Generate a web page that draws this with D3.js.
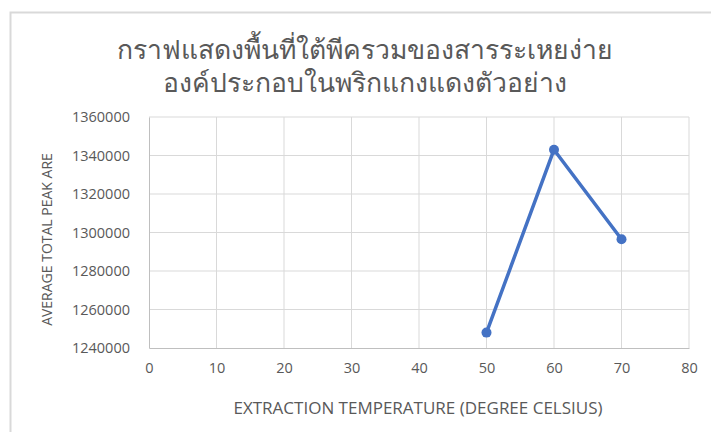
<!DOCTYPE html>
<html>
<head>
<meta charset="utf-8">
<script src="https://cdn.jsdelivr.net/npm/d3@7"></script>
<style>
  body { margin: 0; background: #fff; }
  text { font-family: "Open Sans", "Noto Sans", sans-serif; fill: #595959; }
</style>
</head>
<body>
<div id="chart"></div>
<script>
// data
let temps = [50, 60, 70];
let peakArea = [1248000, 1343000, 1296500];
let xTicks = [0, 10, 20, 30, 40, 50, 60, 70, 80];
let yTicks = [1240000, 1260000, 1280000, 1300000, 1320000, 1340000, 1360000];
let titleLines = ["กราฟแสดงพื้นที่ใต้พีครวมของสารระเหยง่าย", "องค์ประกอบในพริกแกงแดงตัวอย่าง"];

let W = 711, H = 432;
let margin = {top: 117, right: 22, bottom: 84, left: 149};

let svg = d3.select("#chart")
  .append("svg")
    .attr("width", W)
    .attr("height", H);

// chart frame
svg.append("rect")
  .attr("x", 10.5).attr("y", 12.5)
  .attr("width", W + 20).attr("height", H + 20)
  .attr("fill", "none")
  .attr("stroke", "#d9d9d9")
  .attr("stroke-width", 2);

let x = d3.scaleLinear()
  .domain([0, 80])
  .range([margin.left, W - margin.right]);

let y = d3.scaleLinear()
  .domain([1240000, 1360000])
  .range([H - margin.bottom, margin.top]);

// gridlines
svg.append("g")
  .selectAll("line.v")
  .data(xTicks.slice(1))
  .enter().append("line")
    .attr("x1", d => x(d)).attr("x2", d => x(d))
    .attr("y1", y(1360000)).attr("y2", y(1240000))
    .attr("stroke", "#d9d9d9").attr("stroke-width", 1);

svg.append("g")
  .selectAll("line.h")
  .data(yTicks.slice(1))
  .enter().append("line")
    .attr("x1", x(0)).attr("x2", x(80))
    .attr("y1", d => y(d)).attr("y2", d => y(d))
    .attr("stroke", "#d9d9d9").attr("stroke-width", 1);

// axes
let xAxis = svg.append("g")
  .attr("transform", `translate(0,${y(1240000)})`)
  .call(d3.axisBottom(x).tickValues(xTicks).tickSize(0).tickPadding(15));
xAxis.select(".domain").attr("stroke", "#bfbfbf");
xAxis.selectAll("text").style("font-size", "14.5px").attr("fill", "#595959");

let yAxis = svg.append("g")
  .attr("transform", `translate(${x(0)},0)`)
  .call(d3.axisLeft(y).tickValues(yTicks).tickSize(0).tickPadding(19).tickFormat(d3.format("d")));
yAxis.select(".domain").attr("stroke", "#bfbfbf");
yAxis.selectAll("text").style("font-size", "14.5px").attr("fill", "#595959");

// axis titles
svg.append("text")
  .attr("x", (x(0) + x(80)) / 2 - 1)
  .attr("y", 414)
  .attr("text-anchor", "middle")
  .style("font-size", "17px")
  .text("EXTRACTION TEMPERATURE (DEGREE CELSIUS)");

svg.append("text")
  .attr("transform", `translate(52,${(y(1240000) + y(1360000)) / 2 + 7}) rotate(-90)`)
  .attr("text-anchor", "middle")
  .style("font-size", "14px")
  .text("AVERAGE TOTAL PEAK ARE");

// title
svg.append("g")
  .selectAll("text")
  .data(titleLines)
  .enter().append("text")
    .attr("x", 365)
    .attr("y", (d, i) => 59 + i * 33)
    .attr("text-anchor", "middle")
    .style("font-size", "26.5px")
    .style("font-weight", "500")
    .text(d => d);

// series
let pts = temps.map((t, i) => [t, peakArea[i]]);

svg.append("path")
  .datum(pts)
  .attr("fill", "none")
  .attr("stroke", "#4472c4")
  .attr("stroke-width", 3.5)
  .attr("stroke-linejoin", "round")
  .attr("d", d3.line().x(d => x(d[0])).y(d => y(d[1])));

svg.append("g")
  .selectAll("circle")
  .data(pts)
  .enter().append("circle")
    .attr("cx", d => x(d[0]))
    .attr("cy", d => y(d[1]))
    .attr("r", 5)
    .attr("fill", "#4472c4");
</script>
</body>
</html>
